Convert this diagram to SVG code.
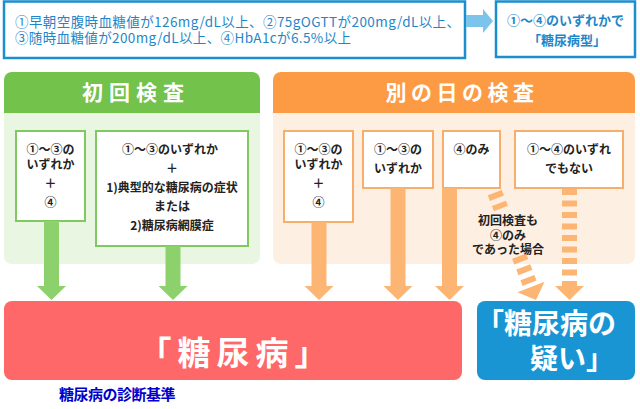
<svg xmlns="http://www.w3.org/2000/svg" width="640" height="409" viewBox="0 0 640 409">
<defs>
<style>
text{font-family:"Noto Sans CJK JP","Noto Sans",sans-serif;}
.top{font-size:13.5px;fill:#1f86c8;}
.topb{font-size:13px;fill:#1f86c8;font-weight:bold;}
.box{font-size:12px;fill:#222;font-weight:bold;text-anchor:middle;}
.hdr{font-size:21px;fill:#fff;font-weight:bold;text-anchor:middle;letter-spacing:6px;}
.gbox{fill:#fff;stroke:#80c860;stroke-width:2;}
.obox{fill:#fff;stroke:#f8ad6a;stroke-width:2;}
.ga{fill:#8dd16c;}
.oa{fill:#fdb574;}
.od{fill:none;stroke:#fdb574;stroke-width:15;stroke-dasharray:6 5.5;}
.big{font-weight:bold;fill:#fff;}
</style>
</defs>
<rect width="640" height="409" fill="#fff"/>

<g id="criteria">
<rect x="4" y="1.5" width="461" height="56.5" fill="#fff" stroke="#1a8fd0" stroke-width="2.5"/>
<text class="top" x="15" y="27" textLength="445" lengthAdjust="spacing">①早朝空腹時血糖値が126mg/dL以上、②75gOGTTが200mg/dL以上、</text>
<text class="top" x="15" y="43" textLength="336" lengthAdjust="spacing">③随時血糖値が200mg/dL以上、④HbA1cが6.5%以上</text>
</g>

<g id="type">
<rect x="496" y="1.5" width="139" height="55.5" fill="#fff" stroke="#1a8fd0" stroke-width="2.5"/>
<text class="topb" x="565.5" y="25" text-anchor="middle">①〜④のいずれかで</text>
<text class="topb" x="567" y="45" text-anchor="middle">「糖尿病型」</text>
</g>

<g id="first-panel">
<path d="M4,80 a8,8 0 0 1 8,-8 H252 a8,8 0 0 1 8,8 V113 H4 Z" fill="#72c24c"/>
<path d="M4,113 H260 V256 a8,8 0 0 1 -8,8 H12 a8,8 0 0 1 -8,-8 Z" fill="#e9f6e1"/>
<text class="hdr" x="136" y="100">初回検査</text>
</g>

<g id="g1">
<rect class="gbox" x="16" y="131" width="69" height="90"/>
<text class="box" x="50.5" y="154">①〜③の</text>
<text class="box" x="50.5" y="169">いずれか</text>
<text class="box" x="50.5" y="188">＋</text>
<text class="box" x="50.5" y="207">④</text>
</g>

<g id="g2">
<rect class="gbox" x="96" y="131" width="152" height="115"/>
<text class="box" x="170" y="154">①〜③のいずれか</text>
<text class="box" x="172" y="173">＋</text>
<text class="box" x="172" y="192">1)典型的な糖尿病の症状</text>
<text class="box" x="172" y="211">または</text>
<text class="box" x="172" y="230">2)糖尿病網膜症</text>
</g>

<g id="second-panel">
<path d="M273,80 a8,8 0 0 1 8,-8 H627 a8,8 0 0 1 8,8 V113 H273 Z" fill="#fd9b45"/>
<path d="M273,113 H635 V256 a8,8 0 0 1 -8,8 H281 a8,8 0 0 1 -8,-8 Z" fill="#feefe3"/>
<text class="hdr" x="462" y="100" style="letter-spacing:4.5px">別の日の検査</text>
</g>

<g id="o1">
<rect class="obox" x="284" y="131" width="69" height="91"/>
<text class="box" x="318.5" y="154">①〜③の</text>
<text class="box" x="318.5" y="169">いずれか</text>
<text class="box" x="318.5" y="188">＋</text>
<text class="box" x="318.5" y="207">④</text>
</g>

<g id="o2">
<rect class="obox" x="363" y="131" width="70" height="57"/>
<text class="box" x="398" y="154">①〜③の</text>
<text class="box" x="398" y="173">いずれか</text>
</g>

<g id="o3">
<rect class="obox" x="443" y="131" width="57" height="57"/>
<text class="box" x="471.5" y="154">④のみ</text>
</g>

<g id="o4">
<rect class="obox" x="515" y="131" width="108" height="57"/>
<text class="box" x="569" y="154">①〜④のいずれ</text>
<text class="box" x="569" y="173">でもない</text>
</g>

<g id="diabetes">
<rect x="4" y="301" width="458" height="79" rx="8" fill="#ff6868"/>
<text class="big" x="236" y="365" text-anchor="middle" style="font-size:33px;letter-spacing:6px">「糖尿病」</text>
</g>

<g id="suspected">
<rect x="477" y="301" width="158" height="79" rx="8" fill="#1a95d4"/>
<text class="big" x="476" y="334" style="font-size:28px">「糖尿病の</text>
<text class="big" x="530" y="369" style="font-size:28px">疑い」</text>
</g>

<g id="connectors">
<polygon points="466,15 483,15 483,9 493,21 483,33 483,27 466,27" fill="#7cc4ec"/>
<rect class="ga" x="44" y="221" width="15" height="66"/>
<polygon class="ga" points="37,286 66,286 51.5,300"/>
<rect class="ga" x="165.5" y="246" width="15" height="41"/>
<polygon class="ga" points="158.5,286 187.5,286 173,300"/>
<rect class="oa" x="311.5" y="222" width="15" height="65"/>
<polygon class="oa" points="304.5,286 333.5,286 319,300"/>
<rect class="oa" x="390.5" y="188" width="15" height="99"/>
<polygon class="oa" points="383.5,286 412.5,286 398,300"/>
<rect class="oa" x="442" y="188" width="15" height="99"/>
<polygon class="oa" points="435,286 464,286 449.5,300"/>
<line class="od" x1="569.5" y1="189" x2="569.5" y2="286"/>
<polygon class="oa" points="555,286 584,286 569.5,300"/>
<g transform="translate(536,300) rotate(-21)">
<line class="od" x1="0" y1="-115" x2="0" y2="-98"/>
<line class="od" x1="0" y1="-47" x2="0" y2="-14"/>
<polygon class="oa" points="-14.5,-14 14.5,-14 0,0"/>
</g>
</g>

<g id="note">
<text class="box" x="508" y="225">初回検査も</text>
<text class="box" x="508" y="239.5">④のみ</text>
<text class="box" x="508" y="254">であった場合</text>
</g>

<text x="59" y="400" style="font-size:15px;font-weight:bold;fill:#0000cc;letter-spacing:-0.5px">糖尿病の診断基準</text>
</svg>
